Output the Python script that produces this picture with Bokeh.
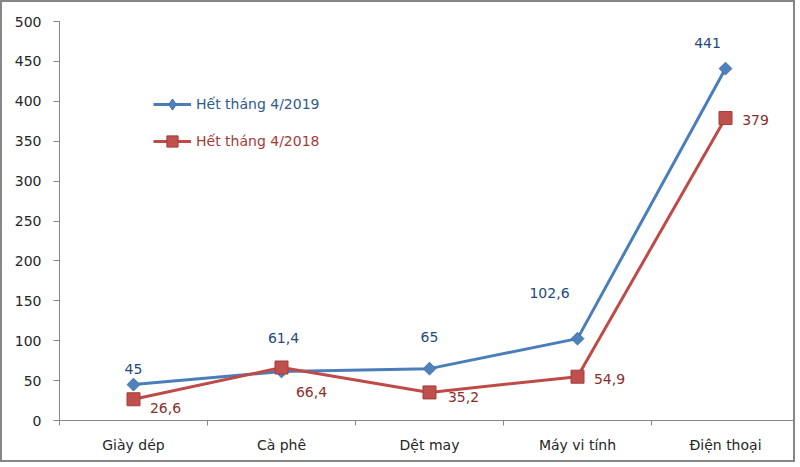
import numpy as np
from bokeh.plotting import figure
from bokeh.models import ColumnDataSource, Range1d, FixedTicker, Legend, LegendItem
from bokeh.core.properties import value
from bokeh.embed import file_html
from bokeh.resources import INLINE

# ---- data ----
categories = ["Giày dép", "Cà phê", "Dệt may", "Máy vi tính", "Điện thoại"]
values_2019 = [45, 61.4, 65, 102.6, 441]
values_2018 = [26.6, 66.4, 35.2, 54.9, 379]
series_names = ["Hết tháng 4/2019", "Hết tháng 4/2018"]
y_ticks = [0, 50, 100, 150, 200, 250, 300, 350, 400, 450, 500]

# ---- label placement (pixel offsets from each point) ----
off19_dx = [0, 2, 0, -28, -18]
off19_dy = [-16, -34, -32, -46, -26]
off18_dx = [32, 30, 34, 32, 30]
off18_dy = [9, 24, 5, 2, 2]

FONT = "DejaVu Sans"
BLUE_LINE = "#4A7EBB"
BLUE_FILL = "#4F81BD"
BLUE_EDGE = "#3F6FA8"
RED_LINE = "#BE4B48"
RED_FILL = "#C0504D"
RED_EDGE = "#A03E3B"
BLUE_TXT = "#1F497D"
RED_TXT = "#8C2D2B"
AXIS_C = "#868686"

n = len(categories)
xs = list(range(1, n + 1))
bounds = [i + 0.5 for i in range(0, n + 1)]


def fmt(v):
    return f"{v:g}".replace(".", ",")


src19 = ColumnDataSource(dict(x=xs, y=values_2019, label=[fmt(v) for v in values_2019],
                              dx=off19_dx, dy=off19_dy))
src18 = ColumnDataSource(dict(x=xs, y=values_2018, label=[fmt(v) for v in values_2018],
                              dx=off18_dx, dy=off18_dy))

W, H = 795, 462
p = figure(width=W, height=H, output_backend="svg", toolbar_location=None,
           x_range=Range1d(0.5, 0.5 + 738 / 148), y_range=Range1d(0, 500),
           min_border_left=57, min_border_right=0, min_border_top=19, min_border_bottom=44)
p.styles = {"border": "2px solid #868686"}
p.outline_line_color = None
p.xgrid.visible = False
p.ygrid.visible = False
p.background_fill_color = "white"
p.border_fill_color = "white"

# y axis
ya = p.yaxis[0]
ya.ticker = FixedTicker(ticks=y_ticks)
ya.major_tick_out = 6
ya.major_tick_in = 0
ya.minor_tick_line_color = None
ya.axis_line_color = AXIS_C
ya.major_tick_line_color = AXIS_C
ya.major_label_text_font = FONT
ya.major_label_text_font_size = "14px"
ya.major_label_text_color = "#262626"
ya.major_label_standoff = 12

# x axis
xa = p.xaxis[0]
xa.ticker = FixedTicker(ticks=xs, minor_ticks=bounds)
xa.major_tick_out = 0
xa.major_tick_in = 0
xa.minor_tick_out = 5
xa.minor_tick_in = 0
xa.minor_tick_line_color = AXIS_C
xa.axis_line_color = AXIS_C
xa.major_label_overrides = {x: c for x, c in zip(xs, categories)}
xa.major_label_text_font = FONT
xa.major_label_text_font_size = "14px"
xa.major_label_text_color = "#262626"
xa.major_label_standoff = 11

# series
l19 = p.line("x", "y", source=src19, line_color=BLUE_LINE, line_width=3)
s19 = p.scatter("x", "y", source=src19, marker="square", angle=np.pi / 4, size=9,
                fill_color=BLUE_FILL, line_color=BLUE_EDGE)
l18 = p.line("x", "y", source=src18, line_color=RED_LINE, line_width=3)
s18 = p.scatter("x", "y", source=src18, marker="square", size=13,
                fill_color=RED_FILL, line_color=RED_EDGE)

# legend-only marker (diamond, since legend glyphs ignore marker rotation)
s19_leg = p.scatter("x", "y", source=src19, marker="diamond", size=12,
                    fill_color=BLUE_FILL, line_color=BLUE_EDGE, visible=False)

p.text("x", "y", text="label", source=src19, x_offset="dx", y_offset="dy",
       text_align="center", text_baseline="middle", text_font=value(FONT),
       text_font_size="14px", text_color=BLUE_TXT)
p.text("x", "y", text="label", source=src18, x_offset="dx", y_offset="dy",
       text_align="center", text_baseline="middle", text_font=value(FONT),
       text_font_size="14px", text_color=RED_TXT)


def make_legend(name, rends, loc, color):
    lg = Legend(items=[LegendItem(label=name, renderers=rends)], location=loc,
                glyph_width=38, glyph_height=28, label_standoff=5, padding=0, margin=0,
                border_line_color=None, background_fill_alpha=0,
                label_text_font=FONT, label_text_font_size="14px",
                label_text_color=color)
    p.add_layout(lg)


make_legend(series_names[0], [l19, s19_leg], (94, 302), "#2F5A8C")
make_legend(series_names[1], [l18, s18], (94, 265), "#A33B38")

open("out.html", "w").write(file_html(p, INLINE))
